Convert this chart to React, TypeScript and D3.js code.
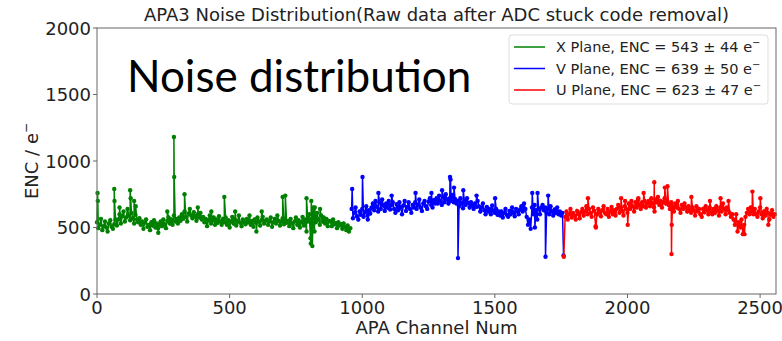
import * as d3 from "d3";

const STEP = 5;

const xPlaneStart = 0;
const xPlaneValues = [
  540, 495, 520, 565, 480, 510, 545, 500, 470, 530, 555, 505, 490, 525, 560, 515,
  560, 600, 530, 585, 620, 545, 575, 640, 590, 555, 610, 570, 530, 595, 560, 540,
  570, 520, 545, 490, 535, 560, 505, 520, 480, 540, 515, 555, 500, 530, 495, 525,
  545, 510, 560, 525, 495, 550, 575, 530, 560, 520, 590, 545, 565, 530, 575, 550,
  600, 565, 620, 580, 545, 605, 640, 590, 570, 615, 585, 550, 600, 575, 610, 560,
  580, 540, 565, 510, 555, 590, 530, 550, 575, 520, 560, 535, 585, 545, 520, 565,
  540, 575, 520, 555, 500, 545, 580, 530, 560, 515, 545, 590, 535, 510, 560, 540,
  525, 565, 540, 590, 520, 550, 505, 560, 535, 575, 545, 515, 555, 580, 530, 550,
  560, 520, 545, 575, 505, 540, 565, 530, 590, 550, 515, 545, 570, 525, 555, 535,
  550, 510, 565, 530, 495, 545, 575, 520, 555, 500, 540, 580, 515, 560, 470, 545,
  600, 420, 560, 650, 470, 540, 610, 560, 520, 590, 545, 575, 530, 565, 510, 550,
  545, 510, 560, 525, 535, 495, 540, 515, 525, 490, 530, 505, 480, 515, 470, 495,
];
const xPlaneSpikes: [number, number][] = [
  [2, 760], [3, 700], [65, 790], [66, 700], [85, 650], [125, 780], [127, 720],
  [140, 700], [146, 660], [231, 460], [265, 620], [290, 1180], [291, 880], [330, 750],
  [380, 650], [431, 620], [480, 730], [521, 620], [601, 470], [621, 620], [700, 730],
  [710, 740], [790, 720], [806, 380], [808, 700], [812, 360], [821, 650], [841, 640],
];

const vPlaneStart = 960;
const vPlaneValues = [
  640, 570, 610, 650, 585, 560, 620, 595, 640, 580, 615, 660, 590, 630, 605, 650,
  680, 630, 700, 655, 620, 690, 640, 710, 665, 625, 680, 650, 700, 635, 670, 690,
  640, 610, 675, 630, 690, 650, 600, 665, 700, 625, 655, 690, 640, 610, 670, 650,
  690, 640, 670, 710, 650, 625, 680, 700, 660, 640, 695, 720, 670, 650, 705, 680,
  720, 680, 740, 700, 670, 730, 690, 750, 710, 680, 720, 700, 745, 690, 715, 680,
  700, 660, 720, 680, 645, 700, 670, 720, 685, 650, 690, 665, 640, 680, 655, 700,
  660, 620, 650, 680, 630, 600, 655, 620, 640, 600, 665, 625, 610, 640, 595, 620,
  590, 620, 575, 610, 640, 595, 580, 625, 600, 650, 615, 585, 640, 620, 600, 635,
  660, 620, 680, 640, 580, 520, 560, 490, 650, 600, 670, 630, 560, 640, 600, 650,
  670, 630, 650, 610, 640, 600, 660, 620, 590, 635, 610, 650, 600, 620, 590, 610,
];
const vPlaneSpikes: [number, number][] = [
  [962, 790], [1001, 880], [1021, 560], [1061, 760], [1111, 740], [1201, 760], [1261, 760],
  [1301, 780], [1331, 880], [1333, 860], [1346, 800], [1361, 270], [1381, 780], [1431, 740],
  [1501, 720], [1641, 760], [1651, 500], [1661, 760], [1691, 280], [1701, 740], [1759, 290],
];

const uPlaneStart = 1760;
const uPlaneValues = [
  280, 580, 620, 560, 600, 640, 575, 610, 590, 560, 625, 600, 570, 615, 640, 590,
  620, 660, 600, 640, 610, 580, 650, 625, 510, 600, 640, 615, 585, 630, 660, 610,
  600, 640, 580, 620, 655, 600, 630, 590, 640, 670, 610, 650, 625, 590, 660, 640,
  610, 680, 640, 700, 660, 620, 690, 650, 710, 670, 640, 690, 660, 700, 650, 680,
  700, 660, 720, 680, 650, 710, 690, 730, 670, 700, 650, 690, 720, 680, 700, 670,
  640, 690, 660, 620, 680, 650, 700, 640, 610, 670, 640, 680, 650, 620, 660, 630,
  610, 650, 630, 590, 660, 620, 640, 600, 580, 640, 615, 660, 630, 600, 650, 620,
  600, 640, 610, 660, 630, 590, 650, 620, 680, 640, 600, 650, 630, 610, 580, 600,
  560, 520, 600, 470, 540, 500, 560, 450, 520, 580, 610, 640, 600, 650, 620, 600,
  640, 600, 580, 620, 650, 600, 570, 620, 590, 640, 610, 560, 600, 630, 580, 600,
];
const uPlaneSpikes: [number, number][] = [
  [1851, 720], [1881, 500], [1976, 720], [1991, 700], [2001, 520], [2041, 720], [2061, 760],
  [2101, 840], [2102, 620], [2141, 800], [2151, 810], [2166, 300], [2167, 520], [2241, 730],
  [2311, 700], [2351, 720], [2381, 700], [2441, 450], [2471, 770], [2501, 720], [2531, 520],
];

const legendLabels = [
  "X Plane, ENC = 543 ± 44 e",
  "V Plane, ENC = 639 ± 50 e",
  "U Plane, ENC = 623 ± 47 e",
];
const colors = ["#008000", "#0000ff", "#ff0000"];
const xTicks = [0, 500, 1000, 1500, 2000, 2500];
const yTicks = [0, 500, 1000, 1500, 2000];

function buildSeries(start: number, values: number[], spikes: [number, number][]) {
  const pts: [number, number][] = values.map((v, i) => [start + i * STEP, v]);
  return pts.concat(spikes).sort((a, b) => a[0] - b[0]);
}

const series = [
  buildSeries(xPlaneStart, xPlaneValues, xPlaneSpikes),
  buildSeries(vPlaneStart, vPlaneValues, vPlaneSpikes),
  buildSeries(uPlaneStart, uPlaneValues, uPlaneSpikes),
];

export default function App() {
  const width = 782;
  const height = 341;
  const margin = { top: 28, right: 6, bottom: 47, left: 97 };
  const font = "'DejaVu Sans', sans-serif";

  const x = d3.scaleLinear().domain([0, 2560]).range([margin.left, width - margin.right]);
  const y = d3.scaleLinear().domain([0, 2000]).range([height - margin.bottom, margin.top]);
  const line = d3.line<[number, number]>().x(d => x(d[0])).y(d => y(d[1]));

  const [x0, x1] = x.range();
  const [y0, y1] = y.range();

  return (
    <svg width={width} height={height} style={{ position: "absolute", left: 0, top: 0, background: "#fff" }}>
      <rect x={0} y={0} width={width} height={height} fill="#fff" />

      {series.map((s, i) => (
        <g key={i}>
          <path d={line(s) ?? ""} fill="none" stroke={colors[i]} strokeWidth={1.5} />
          {s.map((d, j) => (
            <circle key={j} cx={x(d[0])} cy={y(d[1])} r={2.2} fill={colors[i]} />
          ))}
        </g>
      ))}

      <rect x={x0} y={y1} width={x1 - x0} height={y0 - y1} fill="none" stroke="#666" strokeWidth={1} />

      {xTicks.map(t => (
        <g key={t}>
          <line x1={x(t)} x2={x(t)} y1={y0} y2={y0 + 4} stroke="#666" />
          <text x={x(t)} y={y0 + 20} textAnchor="middle" fontFamily={font} fontSize={18} fill="#222">{t}</text>
        </g>
      ))}
      {yTicks.map(t => (
        <g key={t}>
          <line x1={x0 - 4} x2={x0} y1={y(t)} y2={y(t)} stroke="#666" />
          <text x={x0 - 6} y={y(t) + 6.5} textAnchor="end" fontFamily={font} fontSize={18} fill="#222">{t}</text>
        </g>
      ))}

      <text x={(x0 + x1) / 2} y={334} textAnchor="middle" fontFamily={font} fontSize={18} fill="#222">APA Channel Num</text>
      <text transform={`translate(38,${(y0 + y1) / 2}) rotate(-90)`} textAnchor="middle" fontFamily={font} fontSize={18} fill="#222">
        ENC / e<tspan dy={-8} fontSize={12}>−</tspan>
      </text>
      <text x={(x0 + x1) / 2} y={21} textAnchor="middle" fontFamily={font} fontSize={18} fill="#222">
        APA3 Noise Distribution(Raw data after ADC stuck code removal)
      </text>

      <text x={127} y={92} fontFamily="Lato, sans-serif" fontSize={44} fill="#000">Noise distribution</text>

      <rect x={509} y={35} width={259} height={69} rx={3} fill="#fff" stroke="#ddd" />
      {legendLabels.map((lab, i) => (
        <g key={lab}>
          <line x1={514} x2={545} y1={47 + i * 21.5} y2={47 + i * 21.5} stroke={colors[i]} strokeWidth={1.5} />
          <text x={556} y={52 + i * 21.5} fontFamily={font} fontSize={14.5} fill="#222">
            {lab}<tspan dy={-6} fontSize={10}>−</tspan>
          </text>
        </g>
      ))}
    </svg>
  );
}
